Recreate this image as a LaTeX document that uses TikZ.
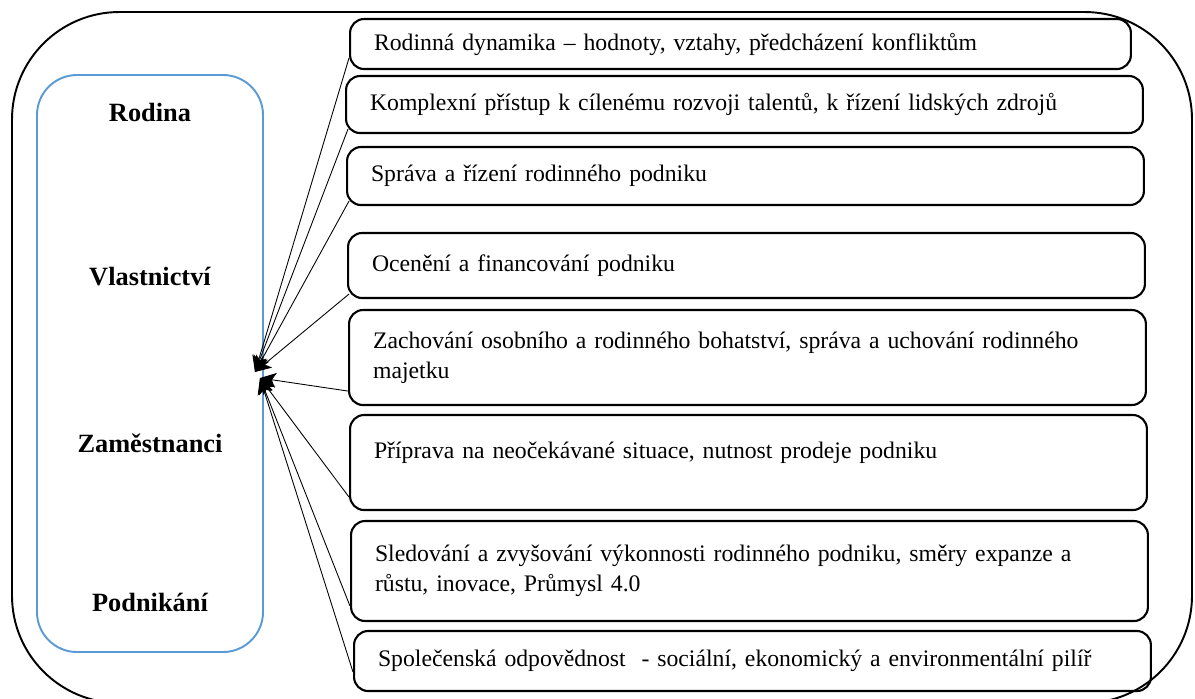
\documentclass[tikz,border=0pt]{standalone}
\usepackage{fontspec}
\setmainfont{Liberation Serif}
\usetikzlibrary{arrows.meta}
\definecolor{panelblue}{HTML}{5B9BD5}

\begin{document}
\begin{tikzpicture}[
  x=0.02cm, y=-0.02cm,
  topic/.style={draw, line width=1.2pt, rounded corners=0.28cm, anchor=west,
                text width=14.98cm, inner xsep=0.48cm, inner ysep=0pt,
                align=left, font=\fontsize{13.5}{17}\selectfont},
  pillar/.style={font=\fontsize{15}{18}\selectfont\bfseries},
  feed/.style={line width=0.5pt, -{Stealth[length=3.2mm, width=3mm, inset=0.8mm]}},
]

\useasboundingbox (0,0) rectangle (1195,698);
\clip (0,0) rectangle (1195,698);

% Outer frame
\draw[line width=1.1pt, rounded corners=2.15cm] (12,12) rectangle (1192,703);

% Left panel with the four areas
\draw[panelblue, line width=1.1pt, rounded corners=0.8cm] (37,75) rectangle (263,652);
\node[pillar] (rodina) at (150,112) {Rodina};
\node[pillar] (vlast) at (150,277) {Vlastnictví};
\node[pillar] (zam) at (150,443) {Zaměstnanci};
\node[pillar] (podn) at (150,602) {Podnikání};

% Topics on the right
\node[topic, minimum height=1.0cm, text width=14.66cm] (b1) at (349,44)
  {Rodinná dynamika – hodnoty, vztahy, předcházení konfliktům};
\node[topic, minimum height=1.14cm] (b2) at (345,104.5)
  {Komplexní přístup k cílenému rozvoji talentů, k řízení lidských zdrojů};
\node[topic, minimum height=1.16cm] (b3) at (346,176)
  {Správa a řízení rodinného podniku};
\node[topic, minimum height=1.3cm] (b4) at (347,265.5)
  {Ocenění a financování podniku};
\node[topic, minimum height=1.9cm] (b5) at (348,357.5)
  {Zachování osobního a rodinného bohatství, správa a uchování rodinného\\majetku};
\node[topic, minimum height=1.9cm, text depth=0.5cm] (b6) at (349,462.5)
  {Příprava na neočekávané situace, nutnost prodeje podniku};
\node[topic, minimum height=2.0cm] (b7) at (350,571)
  {Sledování a zvyšování výkonnosti rodinného podniku, směry expanze a\\růstu, inovace, Průmysl 4.0};
\node[topic, minimum height=1.2cm] (b8) at (353,661)
  {Společenská odpovědnost \ - sociální, ekonomický a environmentální pilíř};

% Arrows into the panel
\coordinate (hub) at (255,372);
\coordinate (hublow) at (260,378);
\draw[feed] ([yshift=0.24cm]b1.south west) -- (hub);
\draw[feed] ([xshift=0.06cm, yshift=0.1cm]b2.south west) -- (hub);
\draw[feed] ([xshift=0.06cm, yshift=0.1cm]b3.south west) -- (hub);
\draw[feed] ([xshift=0.04cm, yshift=0.1cm]b4.south west) -- (hub);
\draw[feed] ([yshift=0.3cm]b5.south west) -- (hublow);
\draw[feed] ([yshift=0.28cm]b6.south west) -- (hublow);
\draw[feed] ([yshift=0.32cm]b7.south west) -- (hublow);
\draw[feed] ([yshift=0.4cm]b8.south west) -- (hublow);

\end{tikzpicture}
\end{document}
